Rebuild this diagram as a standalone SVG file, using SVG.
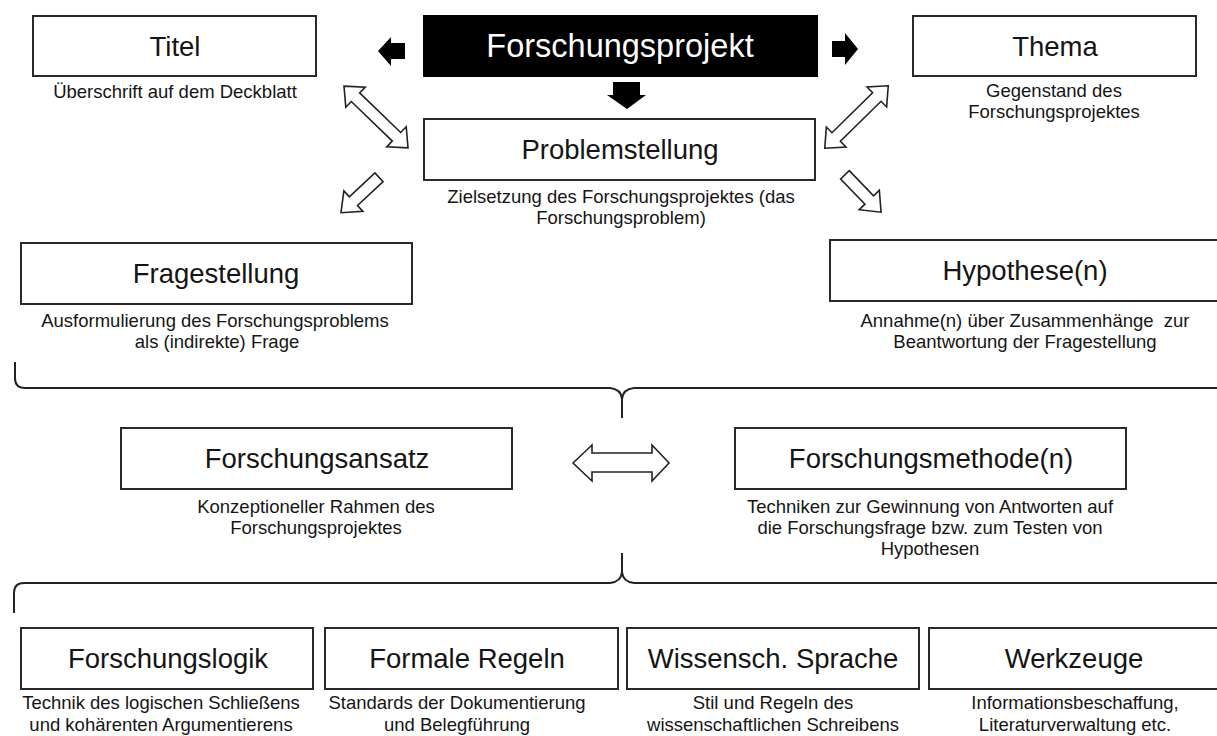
<svg xmlns="http://www.w3.org/2000/svg" width="1217" height="736" viewBox="0 0 1217 736">
<style>
.box{fill:#fff;stroke:#2a2a2a;stroke-width:2}
.h{font-family:"Liberation Sans",Arial,sans-serif;font-size:27.5px;fill:#151515;text-anchor:middle}
.s{font-family:"Liberation Sans",Arial,sans-serif;font-size:18.5px;fill:#151515;text-anchor:middle}
.oa{fill:#fff;stroke:#222;stroke-width:1.6;stroke-linejoin:miter}
.ba{fill:#000}
.br{fill:none;stroke:#222;stroke-width:2}
</style>
<defs>
<polygon id="dbl" points="-44.5,0 -28.5,-14 -28.5,-6 28.5,-6 28.5,-14 44.5,0 28.5,14 28.5,6 -28.5,6 -28.5,14"/>
<polygon id="sgl" points="-26,-6 9,-6 9,-14 26,0 9,14 9,6 -26,6"/>
</defs>
<rect width="1217" height="736" fill="#fff"/>

<g id="titel">
<rect class="box" x="33" y="16" width="283" height="60"/>
<text class="h" x="175" y="56">Titel</text>
<text class="s" x="175" y="98">Überschrift auf dem Deckblatt</text>
</g>

<g id="forschungsprojekt">
<rect x="424" y="16" width="393" height="60" fill="#000" stroke="#000" stroke-width="2"/>
<text class="h" x="620" y="57" style="font-size:32.5px;fill:#fff">Forschungsprojekt</text>
</g>

<g id="thema">
<rect class="box" x="913" y="16" width="283" height="60"/>
<text class="h" x="1055" y="56">Thema</text>
<text class="s" x="1054" y="97">Gegenstand des</text>
<text class="s" x="1054" y="118">Forschungsprojektes</text>
</g>

<g id="problemstellung">
<rect class="box" x="424" y="119" width="391" height="61"/>
<text class="h" x="620" y="159">Problemstellung</text>
<text class="s" x="621" y="203">Zielsetzung des Forschungsprojektes (das</text>
<text class="s" x="621" y="224">Forschungsproblem)</text>
</g>

<g id="fragestellung">
<rect class="box" x="21" y="243" width="391" height="61"/>
<text class="h" x="216" y="283">Fragestellung</text>
<text class="s" x="215" y="327">Ausformulierung des Forschungsproblems</text>
<text class="s" x="217" y="348">als (indirekte) Frage</text>
</g>

<g id="hypothese">
<rect class="box" x="830" y="240" width="400" height="61"/>
<text class="h" x="1025" y="280">Hypothese(n)</text>
<text class="s" x="1025" y="327" xml:space="preserve">Annahme(n) über Zusammenhänge  zur</text>
<text class="s" x="1025" y="348">Beantwortung der Fragestellung</text>
</g>

<g id="forschungsansatz">
<rect class="box" x="121" y="428" width="391" height="61"/>
<text class="h" x="317" y="468">Forschungsansatz</text>
<text class="s" x="316" y="513">Konzeptioneller Rahmen des</text>
<text class="s" x="316" y="534">Forschungsprojektes</text>
</g>

<g id="forschungsmethode">
<rect class="box" x="735" y="428" width="391" height="61"/>
<text class="h" x="931" y="468">Forschungsmethode(n)</text>
<text class="s" x="930" y="513">Techniken zur Gewinnung von Antworten auf</text>
<text class="s" x="930" y="534">die Forschungsfrage bzw. zum Testen von</text>
<text class="s" x="930" y="555">Hypothesen</text>
</g>

<g id="forschungslogik">
<rect class="box" x="21" y="628" width="292" height="61"/>
<text class="h" x="168" y="668">Forschungslogik</text>
<text class="s" x="161" y="709">Technik des logischen Schließens</text>
<text class="s" x="161" y="731">und kohärenten Argumentierens</text>
</g>

<g id="formale-regeln">
<rect class="box" x="325" y="628" width="293" height="61"/>
<text class="h" x="467" y="668">Formale Regeln</text>
<text class="s" x="457" y="709">Standards der Dokumentierung</text>
<text class="s" x="457" y="731">und Belegführung</text>
</g>

<g id="wissensch-sprache">
<rect class="box" x="627" y="628" width="292" height="61"/>
<text class="h" x="773" y="668">Wissensch. Sprache</text>
<text class="s" x="773" y="709">Stil und Regeln des</text>
<text class="s" x="773" y="731">wissenschaftlichen Schreibens</text>
</g>

<g id="werkzeuge">
<rect class="box" x="929" y="628" width="300" height="61"/>
<text class="h" x="1074" y="668">Werkzeuge</text>
<text class="s" x="1075" y="709">Informationsbeschaffung,</text>
<text class="s" x="1075" y="731">Literaturverwaltung etc.</text>
</g>

<g id="connectors">
<polygon class="ba" points="378,51 391,37 391,43 405,43 405,59 391,59 391,66"/>
<polygon class="ba" points="832,41 845,41 845,33 858,49 845,65 845,57 832,57"/>
<polygon class="ba" points="613,82 640,82 640,95 646,95 627,109 607,95 613,95"/>
<use href="#dbl" class="oa" transform="translate(376,117) rotate(44)"/>
<use href="#dbl" class="oa" transform="translate(856.5,117) rotate(-44.5)"/>
<use href="#sgl" class="oa" transform="translate(360,195) rotate(137)"/>
<use href="#sgl" class="oa" transform="translate(863,193.5) rotate(46)"/>
<polygon class="oa" points="573,463 592,445 592,453 652,453 652,445 669,463 652,481 652,472 592,472 592,481"/>
<path class="br" d="M15,362 L15,378 Q15,388 25,388 L610,388 Q621,389 622,399 L622,418 M622,399 Q623,389 634,388 L1220,388"/>
<path class="br" d="M14,613 L14,593 Q14,583 24,583 L610,583 Q621,582 622,572 L622,553 M622,572 Q623,582 634,583 L1220,583"/>
</g>
</svg>
